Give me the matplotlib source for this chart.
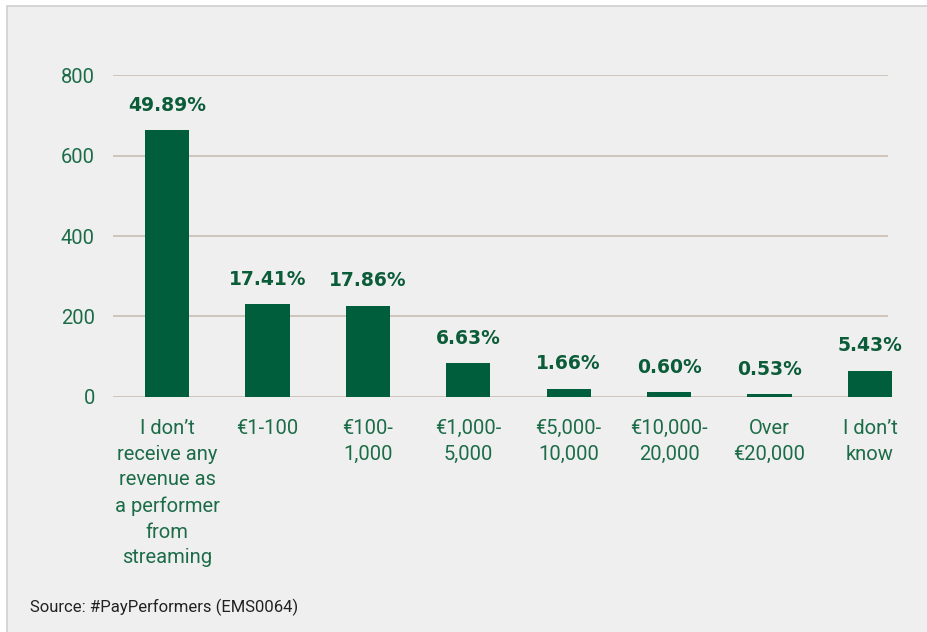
import matplotlib
matplotlib.use("Agg")
import matplotlib.pyplot as plt
from matplotlib.patches import Rectangle

categories = ["I don\u2019t\nreceive any\nrevenue as\na performer\nfrom\nstreaming",
              "\u20ac1-100", "\u20ac100-\n1,000", "\u20ac1,000-\n5,000", "\u20ac5,000-\n10,000",
              "\u20ac10,000-\n20,000", "Over\n\u20ac20,000", "I don\u2019t\nknow"]
counts = [664, 231, 227, 83, 20, 12, 7, 65]
pct_labels = ["49.89%", "17.41%", "17.86%", "6.63%", "1.66%", "0.60%", "0.53%", "5.43%"]
yticks = [0, 200, 400, 600, 800]

green = "#005e3c"
text_green = "#1d6c48"
grid_col = "#cbc2b8"

fig = plt.figure(figsize=(9.28, 6.32), dpi=100)
fig.patch.set_facecolor("white")
W, H = 928, 632
fig.patches.append(Rectangle((7 / W, -0.01), 1.0, 1 - 6 / H + 0.01, transform=fig.transFigure,
                             facecolor="#efefef", edgecolor="#cfcfcf", linewidth=1.2, zorder=-10))

ax = fig.add_axes([113 / W, 1 - 396.7 / H, (888 - 113) / W, (396.7 - 75.3) / H])
ax.set_facecolor("none")

x = list(range(len(categories)))
bars = ax.bar(x, counts, width=0.44, color=green, zorder=3, clip_on=False)

for b, lab in zip(bars, pct_labels):
    ax.annotate(lab, (b.get_x() + b.get_width() / 2, b.get_height()),
                xytext=(0, 11), textcoords="offset points", ha="center", va="bottom",
                fontsize=13.5, fontweight="heavy", color="#0b5c38", family="DejaVu Sans")

ax.set_xlim(-0.538, 7.18)
ax.set_ylim(0, 800)
ax.set_yticks(yticks)
ax.set_yticklabels([str(v) for v in yticks])
ax.set_xticks(x)
ax.set_xticklabels(categories, linespacing=1.45)

for v in yticks:
    ax.axhline(v, color=grid_col, linewidth=1.3, zorder=1)

for s in ax.spines.values():
    s.set_visible(False)
ax.tick_params(axis="y", length=0, pad=13, labelsize=14.5, labelcolor=text_green)
ax.tick_params(axis="x", length=0, pad=16, labelsize=14.5, labelcolor=text_green)
for t in ax.get_xticklabels() + ax.get_yticklabels():
    t.set_family("Roboto")

fig.text(30 / W, 1 - 607 / H, "Source: #PayPerformers (EMS0064)", fontsize=12,
         color="#222222", family="Roboto", va="center", ha="left")

fig.savefig("out.png", dpi=100, facecolor=fig.get_facecolor())
